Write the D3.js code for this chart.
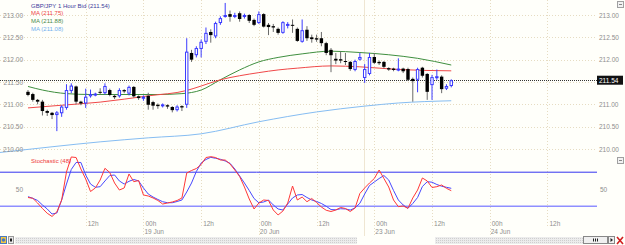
<!DOCTYPE html>
<html>
<head>
<meta charset="utf-8">
<script src="https://cdn.jsdelivr.net/npm/d3@7"></script>
<style>
  html, body { margin: 0; padding: 0; background: #fffffa; }
  svg { display: block; font-family: "Liberation Sans", Arial, sans-serif; }
</style>
</head>
<body>
<svg id="chart" width="625" height="245"></svg>
<script>
// hourly candles, [open, high, low, close]
const candles = [
  [211.28, 211.32, 211.18, 211.21], [211.23, 211.26, 211.06, 211.10], [211.10, 211.12, 211.00, 211.06],
  [211.06, 211.10, 210.75, 210.85], [210.85, 210.88, 210.74, 210.81], [210.81, 210.83, 210.67, 210.76],
  [210.76, 210.85, 210.40, 210.82], [210.80, 210.98, 210.72, 210.95], [210.92, 211.45, 210.88, 211.32],
  [211.30, 211.47, 211.25, 211.42], [211.40, 211.42, 211.00, 211.06], [211.06, 211.08, 210.98, 211.02],
  [211.02, 211.35, 210.92, 211.17], [211.18, 211.33, 211.15, 211.23], [211.21, 211.26, 211.18, 211.24],
  [211.28, 211.36, 211.22, 211.26], [211.25, 211.47, 211.22, 211.41], [211.32, 211.35, 211.18, 211.21],
  [211.19, 211.22, 211.12, 211.16], [211.18, 211.36, 211.15, 211.32], [211.32, 211.34, 211.25, 211.29],
  [211.24, 211.42, 211.20, 211.39], [211.39, 211.41, 211.15, 211.18], [211.18, 211.20, 211.10, 211.14],
  [211.14, 211.20, 211.08, 211.17], [211.19, 211.26, 210.88, 210.99], [211.05, 211.08, 210.88, 210.97],
  [210.99, 211.02, 210.90, 210.96], [210.96, 211.02, 210.93, 211.00], [210.98, 211.00, 210.90, 210.95],
  [210.94, 210.96, 210.82, 210.87], [210.87, 210.98, 210.84, 210.95], [210.96, 210.98, 210.85, 210.93],
  [210.99, 212.48, 210.92, 212.18], [212.15, 212.22, 211.95, 212.00], [212.10, 212.30, 212.05, 212.26],
  [212.24, 212.45, 212.05, 212.40], [212.40, 212.72, 212.35, 212.60], [212.62, 212.68, 212.38, 212.55],
  [212.52, 212.85, 212.48, 212.82], [212.82, 212.97, 212.78, 212.93], [212.96, 213.27, 212.94, 213.00],
  [213.02, 213.10, 212.85, 212.96], [212.97, 213.05, 212.93, 213.00], [213.04, 213.08, 212.85, 212.91],
  [212.96, 213.03, 212.92, 213.00], [213.00, 213.02, 212.82, 212.87], [212.89, 212.92, 212.75, 212.78],
  [212.82, 213.08, 212.80, 213.02], [213.02, 213.04, 212.72, 212.74], [212.78, 212.82, 212.55, 212.73],
  [212.75, 212.80, 212.62, 212.72], [212.69, 212.72, 212.56, 212.60], [212.60, 212.86, 212.58, 212.84],
  [212.77, 212.84, 212.70, 212.80], [212.78, 212.90, 212.60, 212.76], [212.69, 212.72, 212.40, 212.42],
  [212.40, 212.90, 212.38, 212.66], [212.67, 212.75, 212.42, 212.48], [212.50, 212.56, 212.38, 212.46],
  [212.48, 212.56, 212.40, 212.45], [212.48, 212.62, 212.30, 212.37], [212.37, 212.40, 212.10, 212.15],
  [212.22, 212.26, 211.72, 212.10], [212.02, 212.15, 211.90, 211.98], [212.01, 212.18, 211.92, 211.98],
  [211.97, 212.15, 211.88, 211.95], [211.95, 211.97, 211.75, 211.79], [211.77, 212.00, 211.74, 211.97],
  [212.00, 212.15, 211.98, 212.06], [211.59, 211.90, 211.48, 211.79], [211.68, 212.15, 211.65, 212.06],
  [212.06, 212.15, 211.90, 211.93], [211.95, 211.98, 211.88, 211.92], [211.95, 211.97, 211.80, 211.84],
  [211.81, 211.83, 211.75, 211.78], [211.80, 211.82, 211.74, 211.77], [211.76, 212.03, 211.74, 211.80],
  [211.80, 211.82, 211.70, 211.74], [211.79, 211.82, 211.52, 211.55], [211.57, 211.60, 211.06, 211.52],
  [211.55, 211.82, 211.27, 211.79], [211.82, 211.84, 211.60, 211.64], [211.68, 211.70, 211.10, 211.28],
  [211.43, 211.66, 211.10, 211.61], [211.60, 211.78, 211.55, 211.63], [211.62, 211.65, 211.25, 211.34],
  [211.35, 211.45, 211.32, 211.41], [211.41, 211.56, 211.38, 211.54]
];
const lastPrice = 211.54;

// moving averages, [bar index, value]
const maRed = [[0, 210.92], [7, 210.98], [15, 211.05], [25, 211.19], [33, 211.31], [36, 211.41], [40, 211.55],
  [44, 211.64], [48, 211.71], [52, 211.77], [56, 211.81], [63, 211.86], [69, 211.84], [77, 211.78], [88, 211.75]];
const maGreen = [[0, 211.40], [3, 211.32], [8, 211.24], [13, 211.22], [21, 211.22], [27, 211.22], [32, 211.24],
  [36, 211.32], [40, 211.55], [44, 211.77], [48, 211.95], [52, 212.05], [57, 212.13], [63, 212.19],
  [69, 212.16], [75, 212.11], [81, 212.03], [88, 211.88]];
const maBlue = [[-6, 209.92], [5, 210.05], [15, 210.16], [25, 210.25], [36, 210.34], [48, 210.61],
  [60, 210.83], [70, 210.96], [77, 211.03], [88, 211.08]];

// stochastic %K (red) and %D (blue), one value per bar
const stochK = [37.8, 36.6, 29.7, 21.6, 14.6, 9.9, 16.5, 34.1, 75.3, 97.4,
  96.6, 79.7, 65.0, 46.6, 51.8, 63.5, 80.7, 74.6, 59.1, 48.8,
  51.8, 72.4, 61.0, 62.8, 41.5, 40.0, 37.1, 33.4, 28.2, 29.7,
  31.2, 33.4, 37.1, 73.8, 77.5, 80.4, 86.3, 96.6, 97.8, 96.6,
  92.9, 92.9, 87.1, 78.2, 68.7, 53.2, 35.6, 20.9, 29.7, 34.1,
  33.4, 19.4, 12.1, 17.9, 29.7, 54.7, 34.1, 38.5, 31.6, 36.3,
  30.4, 23.8, 19.0, 17.2, 19.4, 23.1, 21.6, 17.2, 22.4, 43.7,
  51.8, 59.1, 65.7, 78.2, 65.7, 53.2, 34.1, 24.3, 25.3, 21.9,
  37.1, 48.8, 66.5, 62.1, 52.5, 53.7, 56.2, 51.3, 47.8];
const stochD = [39.0, 36.6, 33.4, 26.8, 20.9, 13.5, 15.0, 34.1, 57.6, 79.0,
  89.3, 89.3, 70.9, 57.6, 52.8, 53.7, 62.1, 70.1, 70.9, 62.1,
  57.6, 61.6, 64.3, 62.1, 51.8, 42.9, 38.5, 34.9, 31.6, 30.1,
  30.1, 31.9, 34.1, 45.9, 59.1, 76.0, 88.5, 93.7, 96.9, 95.4,
  94.0, 91.5, 88.1, 79.7, 69.4, 59.1, 48.1, 36.3, 30.0, 31.2,
  34.1, 26.8, 20.9, 19.4, 28.2, 37.1, 41.5, 42.2, 37.8, 34.1,
  31.9, 29.0, 24.9, 20.1, 19.7, 21.3, 20.9, 19.4, 22.4, 29.3,
  42.9, 55.4, 60.6, 65.7, 70.1, 63.5, 48.1, 34.1, 26.8, 21.9,
  29.0, 37.8, 54.0, 61.0, 60.3, 56.9, 54.4, 52.8, 51.3];
const stochLevels = [75, 25];

// time axis: bar index of each tick, hour label, date label
const timeTicks = [12, 24, 36, 48, 60, 72, 84, 96, 108];
const hourLabels = ['12h', '00h', '12h', '00h', '12h', '00h', '12h', '00h', '12h'];
const dateLabels = ['', '19 Jun', '', '20 Jun', '', '23 Jun', '', '24 Jun', ''];
const sessionBreak = 69.8;

const priceTicks = [210, 210.5, 211, 211.5, 212, 212.5, 213];
// the right side hides the level that the last price box covers
const priceTicksRight = [210, 210.5, 211, 212, 212.5, 213];

const svg = d3.select('#chart');
const W = 597;

const x = d3.scaleLinear().domain([-5.82, 118.3]).range([0, W]);
const y = d3.scaleLinear().domain([210, 213]).range([149, 15]);
const yS = d3.scaleLinear().domain([0, 100]).range([223.2, 155.2]);

svg.append('rect').attr('width', 625).attr('height', 245).attr('fill', '#fffffa');

const defs = svg.append('defs');
defs.append('clipPath').attr('id', 'clipPrice')
  .append('rect').attr('x', 0).attr('y', 0).attr('width', W).attr('height', 153);
defs.append('clipPath').attr('id', 'clipStoch')
  .append('rect').attr('x', 0).attr('y', 154).attr('width', W).attr('height', 65);
const pat = defs.append('pattern').attr('id', 'track')
  .attr('width', 2).attr('height', 2).attr('patternUnits', 'userSpaceOnUse');
pat.append('rect').attr('width', 2).attr('height', 2).attr('fill', '#ececec');
pat.append('rect').attr('width', 1).attr('height', 1).attr('fill', '#cfcfcf');

const gridColor = '#e6dcc2';

// horizontal price grid
svg.append('g').selectAll('line')
  .data(priceTicks)
  .enter().append('line')
  .attr('x1', 0).attr('x2', W)
  .attr('y1', d => Math.round(y(d)) + 0.5).attr('y2', d => Math.round(y(d)) + 0.5)
  .attr('stroke', gridColor).attr('stroke-dasharray', '1,2');

// vertical time grid
svg.append('g').selectAll('line')
  .data(timeTicks)
  .enter().append('line')
  .attr('x1', d => Math.round(x(d)) + 0.5).attr('x2', d => Math.round(x(d)) + 0.5)
  .attr('y1', 0).attr('y2', (d, i) => dateLabels[i] ? 236 : 228)
  .attr('stroke', gridColor).attr('stroke-dasharray', '1,2');

svg.append('line')
  .attr('x1', Math.round(x(sessionBreak)) + 0.5).attr('x2', Math.round(x(sessionBreak)) + 0.5)
  .attr('y1', 0).attr('y2', 236)
  .attr('stroke', '#efe6d2');

// last price line
svg.append('line')
  .attr('x1', 0).attr('x2', W)
  .attr('y1', Math.round(y(lastPrice)) + 0.5).attr('y2', Math.round(y(lastPrice)) + 0.5)
  .attr('stroke', '#333').attr('stroke-dasharray', '1,1');

const price = svg.append('g').attr('clip-path', 'url(#clipPrice)');

const maLine = d3.line()
  .x(d => x(d[0])).y(d => y(d[1]))
  .curve(d3.curveMonotoneX);

[[maBlue, '#86bdf2'], [maGreen, '#3f8f3f'], [maRed, '#f04848']].forEach(([data, color]) => {
  price.append('path')
    .attr('d', maLine(data))
    .attr('fill', 'none')
    .attr('stroke', color)
    .attr('stroke-width', 1);
});

const bullColor = '#3b3bff';
const bodyW = 3.4;

const bars = price.selectAll('g.candle')
  .data(candles)
  .enter().append('g')
  .attr('class', 'candle');

bars.append('line')
  .attr('x1', (d, i) => x(i)).attr('x2', (d, i) => x(i))
  .attr('y1', d => y(d[1])).attr('y2', d => y(d[2]))
  .attr('stroke', d => d[3] >= d[0] ? bullColor : '#6a6a6a')
  .attr('stroke-width', 1);

bars.append('rect')
  .attr('x', (d, i) => d[3] >= d[0] ? x(i) - bodyW / 2 + 0.5 : x(i) - bodyW / 2)
  .attr('y', d => y(Math.max(d[0], d[3])) + (d[3] >= d[0] ? 0.5 : 0))
  .attr('width', d => d[3] >= d[0] ? bodyW - 1 : bodyW)
  .attr('height', d => Math.max(1, Math.abs(y(d[0]) - y(d[3])) - (d[3] >= d[0] ? 1 : 0)))
  .attr('fill', d => d[3] >= d[0] ? '#ffffff' : '#000000')
  .attr('stroke', d => d[3] >= d[0] ? bullColor : 'none')
  .attr('stroke-width', 1);

// stochastic panel
const stoch = svg.append('g').attr('clip-path', 'url(#clipStoch)');

stoch.selectAll('line.level')
  .data(stochLevels)
  .enter().append('line')
  .attr('class', 'level')
  .attr('x1', 0).attr('x2', W)
  .attr('y1', d => yS(d)).attr('y2', d => yS(d))
  .attr('stroke', (d, i) => i === 0 ? '#3434f0' : '#8f8fff')
  .attr('stroke-width', (d, i) => i === 0 ? 1 : 1.5);

const stochLine = d3.line()
  .x((d, i) => x(i)).y(d => yS(d));

stoch.append('path')
  .attr('d', stochLine(stochD))
  .attr('fill', 'none').attr('stroke', '#4848ff').attr('stroke-width', 1);
stoch.append('path')
  .attr('d', stochLine(stochK))
  .attr('fill', 'none').attr('stroke', '#ff3838').attr('stroke-width', 1);

// axes labels, both sides
const labelColor = '#8e8e8e';
const styleAxis = g => g
  .call(g => g.select('.domain').remove())
  .call(g => g.selectAll('.tick line').remove())
  .call(g => g.selectAll('.tick text')
    .attr('font-family', '"Liberation Sans", Arial, sans-serif')
    .attr('font-size', 6.5)
    .attr('fill', labelColor));

svg.append('g')
  .attr('transform', 'translate(24,0)')
  .call(d3.axisLeft(y).tickValues(priceTicks).tickFormat(d3.format('.2f')).tickSize(0).tickPadding(1))
  .call(styleAxis);

svg.append('g')
  .attr('transform', `translate(${W},0)`)
  .call(d3.axisRight(y).tickValues(priceTicksRight).tickFormat(d3.format('.2f')).tickSize(0).tickPadding(2))
  .call(styleAxis);

svg.append('g')
  .attr('transform', 'translate(24,0)')
  .call(d3.axisLeft(yS).tickValues([50]).tickSize(0).tickPadding(1))
  .call(styleAxis);

svg.append('g')
  .attr('transform', `translate(${W},0)`)
  .call(d3.axisRight(yS).tickValues([50]).tickSize(0).tickPadding(3))
  .call(styleAxis);

// last price box
svg.append('rect')
  .attr('x', W).attr('y', y(lastPrice) - 4.5)
  .attr('width', 26).attr('height', 9)
  .attr('fill', '#111');
svg.append('text')
  .attr('x', W + 2).attr('y', y(lastPrice) + 2.3)
  .attr('font-size', 6.5).attr('fill', '#fff')
  .text(lastPrice.toFixed(2));

// time labels
const tl = svg.append('g').attr('font-size', 6.5).attr('fill', labelColor);
tl.selectAll('text.hour')
  .data(timeTicks)
  .enter().append('text')
  .attr('class', 'hour')
  .attr('x', d => x(d) + 2).attr('y', 225.5)
  .text((d, i) => hourLabels[i]);
tl.selectAll('text.date')
  .data(timeTicks)
  .enter().append('text')
  .attr('class', 'date')
  .attr('x', d => x(d) + 1).attr('y', 233.5)
  .text((d, i) => dateLabels[i]);

// legends
const legend = [
  ['GBP/JPY 1 Hour Bid (' + lastPrice.toFixed(2) + ')', '#3e3e9c'],
  ['MA (' + maRed[maRed.length - 1][1].toFixed(2) + ')', '#ee4444'],
  ['MA (' + maGreen[maGreen.length - 1][1].toFixed(2) + ')', '#4a8a4a'],
  ['MA (' + maBlue[maBlue.length - 1][1].toFixed(2) + ')', '#72b0ee']
];
svg.append('g').selectAll('text')
  .data(legend)
  .enter().append('text')
  .attr('x', 31).attr('y', (d, i) => 7.5 + i * 7.8)
  .attr('font-size', 6)
  .attr('fill', d => d[1])
  .text(d => d[0]);

svg.append('text')
  .attr('x', 31).attr('y', 163)
  .attr('font-size', 6).attr('fill', '#ee3a3a')
  .text('Stochastic (48)');

// small panel buttons top-right
[1.5, 157.5].forEach(top => {
  svg.append('rect').attr('x', 617.5).attr('y', top).attr('width', 6).attr('height', 6)
    .attr('fill', '#f2f2f2').attr('stroke', '#a0a0a0');
  svg.append('line').attr('x1', 619).attr('x2', 622).attr('y1', top + 3).attr('y2', top + 3)
    .attr('stroke', '#888');
});

// bottom scroller
const sb = svg.append('g');
sb.append('rect').attr('x', 15).attr('y', 237).attr('width', 342).attr('height', 7).attr('fill', 'url(#track)');
sb.append('rect').attr('x', 435).attr('y', 237).attr('width', 148).attr('height', 7).attr('fill', 'url(#track)');
sb.append('rect').attr('x', 0.5).attr('y', 236.5).attr('width', 6).attr('height', 7)
  .attr('fill', '#f4c640').attr('stroke', '#4a7ac0');
sb.append('circle').attr('cx', 3.5).attr('cy', 240).attr('r', 1.8).attr('fill', '#4a7ac0');
sb.append('rect').attr('x', 8.5).attr('y', 236.5).attr('width', 5).attr('height', 7)
  .attr('fill', '#e8e8e8').attr('stroke', '#999');
sb.append('rect').attr('x', 10).attr('y', 238.5).attr('width', 2).attr('height', 3).attr('fill', '#222');
sb.append('rect').attr('x', 583.5).attr('y', 236.5).attr('width', 24).attr('height', 7)
  .attr('fill', '#f0f0f0').attr('stroke', '#888');
[593, 595, 597].forEach(px => sb.append('line')
  .attr('x1', px + 0.5).attr('x2', px + 0.5).attr('y1', 238.5).attr('y2', 241.5).attr('stroke', '#222'));
sb.append('rect').attr('x', 608.5).attr('y', 236.5).attr('width', 6).attr('height', 7)
  .attr('fill', '#f0f0f0').attr('stroke', '#888');
sb.append('path').attr('d', 'M610.5,238 L613,240 L610.5,242 Z').attr('fill', '#222');
sb.append('path').attr('d', 'M617,237 L623,244 M623,237 L617,244')
  .attr('stroke', '#d02020').attr('stroke-width', 1.6);
</script>
</body>
</html>
